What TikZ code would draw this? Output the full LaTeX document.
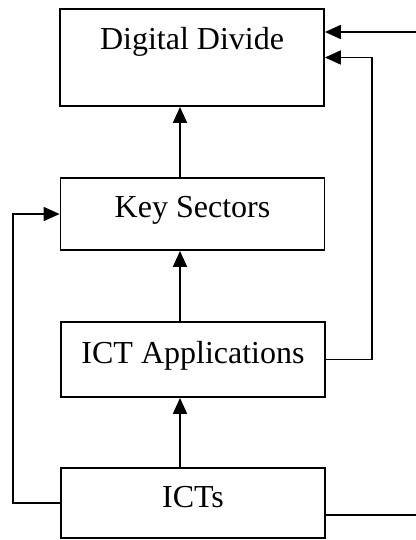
\documentclass[tikz,border=0pt]{standalone}
\usepackage{fontspec}
\setmainfont{Liberation Serif}
\usetikzlibrary{arrows.meta}
\begin{document}
\begin{tikzpicture}[x=1pt,y=-1pt,
  box/.style={draw, line width=1.8pt, inner sep=0pt, minimum width=264pt},
  lbl/.style={font=\fontsize{32}{38}\selectfont, anchor=base, inner sep=0pt},
  arr/.style={line width=1.8pt, -{Triangle[length=16pt,width=14pt]}}]
\useasboundingbox (0,0) rectangle (415,540);
\node[box, minimum height=97pt] (dd) at (192,57.5) {};
\node[box, minimum height=72pt] (ks) at (192.5,214) {};
\node[box, minimum height=75pt] (app) at (193,359.5) {};
\node[box, minimum height=70pt] (icts) at (193,503) {};
\node[lbl] (ddt) at (192,50) {Digital Divide};
\node[lbl] (kst) at (192.5,217) {Key Sectors};
\node[lbl] (appt) at (193,363) {ICT Applications};
\node[lbl] (ictst) at (193,507) {ICTs};
\coordinate (vx) at (180,0);
\coordinate (lx) at (13,0);
\coordinate (rx) at (372,0);
\coordinate (fx) at (421,0);
\draw[arr] (ks.north -| vx) -- (dd.south -| vx);
\draw[arr] (app.north -| vx) -- (ks.south -| vx);
\draw[arr] (icts.north -| vx) -- (app.south -| vx);
\draw[arr] (icts.west) -- (icts.west -| lx) |- (ks.west);
\draw[arr] (app.east) -- (app.east -| rx) |- (dd.east);
\draw[arr] ([yshift=-12pt]icts.east) -- ([yshift=-12pt]icts.east -| fx) |- ([yshift=25.5pt]dd.east);
\end{tikzpicture}
\end{document}
